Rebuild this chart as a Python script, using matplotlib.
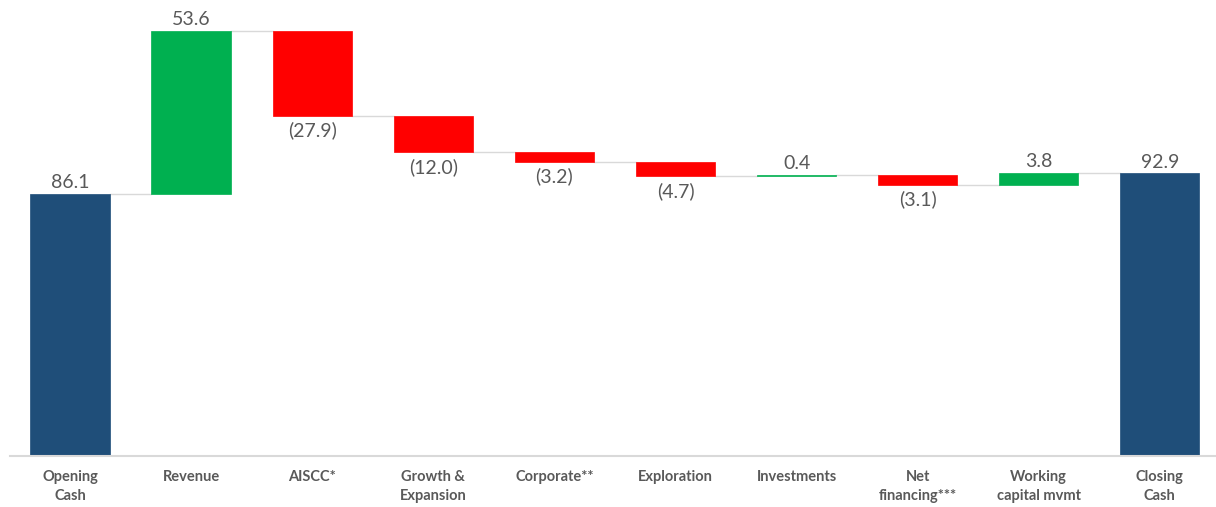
import matplotlib
matplotlib.use('Agg')
import matplotlib.pyplot as plt

categories = ['Opening\nCash', 'Revenue', 'AISCC*', 'Growth &\nExpansion', 'Corporate**',
              'Exploration', 'Investments', 'Net\nfinancing***', 'Working\ncapital mvmt', 'Closing\nCash']
values = [86.1, 53.6, -27.9, -12.0, -3.2, -4.7, 0.4, -3.1, 3.8, 92.9]
kinds = ['total', 'step', 'step', 'step', 'step', 'step', 'step', 'step', 'step', 'total']

navy = '#1F4E79'
green = '#00B050'
red = '#FF0000'
grey = '#595959'

plt.rcParams['font.family'] = ['Lato', 'DejaVu Sans']

fig = plt.figure(figsize=(12.16, 5.07), dpi=100)
ax = fig.add_axes([9.5/1216, 51/507, 1206/1216, 150*3.043/507])

width = 0.655
running = 0.0
tops = []
for i, (v, k) in enumerate(zip(values, kinds)):
    if k == 'total':
        bottom, height, col = 0, v, navy
        running = v
    else:
        bottom = running if v >= 0 else running + v
        height = abs(v)
        col = green if v >= 0 else red
        running = running + v
    ax.bar(i, height, bottom=bottom, width=width, color=col, edgecolor=col, linewidth=0.5, zorder=2)
    tops.append(running)
    if v >= 0:
        label = '%.1f' % v
        ax.annotate(label, (i, bottom + height), xytext=(0, 2), textcoords='offset points',
                    ha='center', va='bottom', fontsize=14, color=grey)
    else:
        label = '(%.1f)' % abs(v)
        ax.annotate(label, (i, bottom), xytext=(0, -4), textcoords='offset points',
                    ha='center', va='top', fontsize=14, color=grey)

# connectors between bars
for i in range(len(values) - 1):
    ax.plot([i + width/2, i + 1 - width/2], [tops[i], tops[i]], color='#D9D9D9', lw=1, zorder=1)

ax.set_xlim(-0.5, 9.46)
ax.set_ylim(0, 150)
ax.set_xticks(range(len(categories)))
ax.set_xticklabels(categories, fontsize=10.5, fontweight='bold', color=grey, linespacing=1.5)
ax.tick_params(axis='x', length=0, pad=10)
ax.set_yticks([])
for s in ['top', 'right', 'left']:
    ax.spines[s].set_visible(False)
ax.spines['bottom'].set_color('#D9D9D9')
ax.spines['bottom'].set_linewidth(1.5)

fig.savefig('out.png', dpi=100)
